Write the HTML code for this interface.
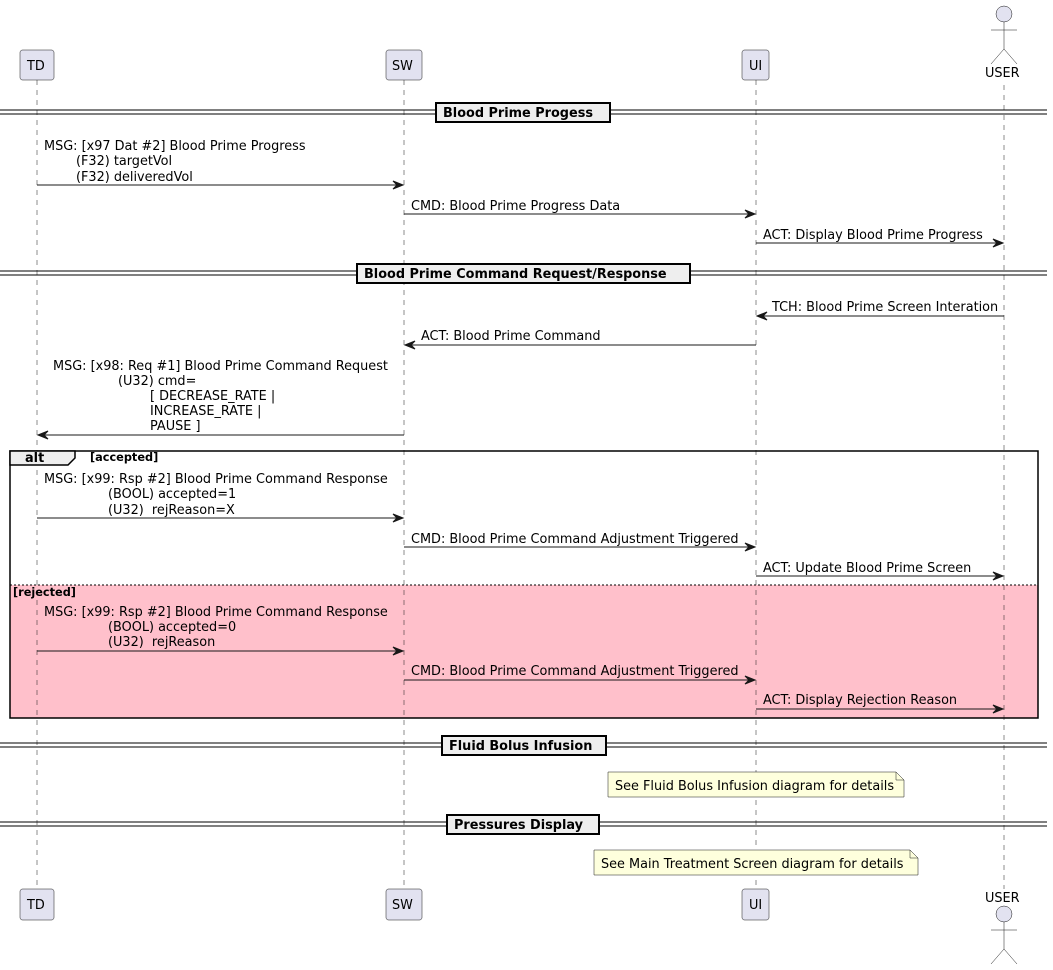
<!DOCTYPE html>
<html><head><meta charset="utf-8"><style>html,body{margin:0;padding:0;background:#fff}svg{display:block}text{font-family:"DejaVu Sans","Liberation Sans",sans-serif;font-size:12.85px;fill:#000}</style></head><body>
<svg width="1053" height="970" viewBox="0 0 1053 970" xmlns="http://www.w3.org/2000/svg">
<defs>
<g id="ar"><polygon points="0,0 -10,-4 -6,0 -10,4" fill="#181818" stroke="#181818"/></g>
</defs>
<rect x="10" y="585" width="1028" height="133" fill="#FFC0CB"/>
<g stroke="#181818" stroke-width="0.5" stroke-dasharray="5,5">
<line x1="37" y1="80" x2="37" y2="889"/>
<line x1="404" y1="80" x2="404" y2="889"/>
<line x1="756" y1="80" x2="756" y2="889"/>
<line x1="1004" y1="85" x2="1004" y2="889"/>
</g>
<g fill="#E2E2F0" stroke="#181818" stroke-width="0.5">
<rect x="20" y="50" width="34" height="30" rx="2.5"/>
<rect x="386" y="50" width="36" height="30" rx="2.5"/>
<rect x="742" y="50" width="27" height="30" rx="2.5"/>
<rect x="20" y="889" width="34" height="31" rx="2.5"/>
<rect x="386" y="889" width="36" height="31" rx="2.5"/>
<rect x="742" y="889" width="27" height="31" rx="2.5"/>
<circle cx="1004" cy="14" r="8"/>
<circle cx="1004" cy="914" r="8"/>
</g>
<g stroke="#181818" stroke-width="0.5" fill="none">
<path d="M1004,22 V49 M991,30 H1017 M1004,49 L991,64 M1004,49 L1017,64"/>
<path d="M1004,922 V949 M991,930 H1017 M1004,949 L991,964 M1004,949 L1017,964"/>
</g>
<text x="27" y="70">TD</text><text x="392" y="70">SW</text><text x="749" y="70">UI</text><text x="985" y="77">USER</text>
<text x="27" y="909">TD</text><text x="392" y="909">SW</text><text x="749" y="909">UI</text><text x="985" y="902">USER</text>
<g stroke="#000" stroke-width="1">
<line x1="0" y1="110" x2="1047" y2="110"/><line x1="0" y1="114" x2="1047" y2="114"/>
<line x1="0" y1="271" x2="1047" y2="271"/><line x1="0" y1="275" x2="1047" y2="275"/>
<line x1="0" y1="743" x2="1047" y2="743"/><line x1="0" y1="747" x2="1047" y2="747"/>
<line x1="0" y1="822" x2="1047" y2="822"/><line x1="0" y1="826" x2="1047" y2="826"/>
</g>
<g fill="#EEEEEE" stroke="#000" stroke-width="2">
<rect x="436" y="103" width="174" height="19"/>
<rect x="357" y="264" width="333" height="19"/>
<rect x="442" y="736" width="164" height="19"/>
<rect x="447" y="815" width="152" height="19"/>
</g>
<text x="443" y="117" style="font-weight:bold">Blood Prime Progess</text>
<text x="364" y="278" style="font-weight:bold">Blood Prime Command Request/Response</text>
<text x="449" y="750" style="font-weight:bold">Fluid Bolus Infusion</text>
<text x="454" y="829" style="font-weight:bold">Pressures Display</text>
<rect x="10" y="451" width="1028" height="267" fill="none" stroke="#000" stroke-width="1.5"/>
<path d="M10,451 H75 V458 L68,465 H10 Z" fill="#EEEEEE" stroke="#000" stroke-width="1.5"/>
<text x="25" y="462" style="font-weight:bold">alt</text>
<text x="90" y="461" style="font-weight:bold;font-size:11.3px">[accepted]</text>
<line x1="10" y1="585" x2="1038" y2="585" stroke="#000" stroke-width="1" stroke-dasharray="2,2"/>
<text x="13" y="596" style="font-weight:bold;font-size:11.3px">[rejected]</text>
<g stroke="#181818" stroke-width="1">
<line x1="37" y1="185" x2="402" y2="185"/>
<line x1="404" y1="214" x2="754" y2="214"/>
<line x1="756" y1="243" x2="1002" y2="243"/>
<line x1="1004" y1="316" x2="758" y2="316"/>
<line x1="756" y1="345" x2="406" y2="345"/>
<line x1="404" y1="435" x2="39" y2="435"/>
<line x1="37" y1="518" x2="402" y2="518"/>
<line x1="404" y1="547" x2="754" y2="547"/>
<line x1="756" y1="576" x2="1002" y2="576"/>
<line x1="37" y1="651" x2="402" y2="651"/>
<line x1="404" y1="680" x2="754" y2="680"/>
<line x1="756" y1="709" x2="1002" y2="709"/>
</g>
<use href="#ar" x="403" y="185"/><use href="#ar" x="755" y="214"/><use href="#ar" x="1003" y="243"/>
<use href="#ar" transform="translate(757,316) scale(-1,1)"/>
<use href="#ar" transform="translate(405,345) scale(-1,1)"/>
<use href="#ar" transform="translate(38,435) scale(-1,1)"/>
<use href="#ar" x="403" y="518"/><use href="#ar" x="755" y="547"/><use href="#ar" x="1003" y="576"/>
<use href="#ar" x="403" y="651"/><use href="#ar" x="755" y="680"/><use href="#ar" x="1003" y="709"/>
<text x="44" y="150">MSG: [x97 Dat #2] Blood Prime Progress</text>
<text x="76" y="165">(F32) targetVol</text>
<text x="76" y="181">(F32) deliveredVol</text>
<text x="411" y="210">CMD: Blood Prime Progress Data</text>
<text x="763" y="239">ACT: Display Blood Prime Progress</text>
<text x="772" y="311">TCH: Blood Prime Screen Interation</text>
<text x="421" y="340">ACT: Blood Prime Command</text>
<text x="53" y="370">MSG: [x98: Req #1] Blood Prime Command Request</text>
<text x="118" y="385">(U32) cmd=</text>
<text x="150" y="400">[ DECREASE_RATE |</text>
<text x="150" y="415">INCREASE_RATE |</text>
<text x="150" y="430">PAUSE ]</text>
<text x="44" y="483">MSG: [x99: Rsp #2] Blood Prime Command Response</text>
<text x="108" y="498">(BOOL) accepted=1</text>
<text x="108" y="514" xml:space="preserve">(U32)  rejReason=X</text>
<text x="411" y="543">CMD: Blood Prime Command Adjustment Triggered</text>
<text x="763" y="572">ACT: Update Blood Prime Screen</text>
<text x="44" y="616">MSG: [x99: Rsp #2] Blood Prime Command Response</text>
<text x="108" y="631">(BOOL) accepted=0</text>
<text x="108" y="646" xml:space="preserve">(U32)  rejReason</text>
<text x="411" y="675">CMD: Blood Prime Command Adjustment Triggered</text>
<text x="763" y="704">ACT: Display Rejection Reason</text>
<g fill="#FEFFDD" stroke="#181818" stroke-width="0.5">
<path d="M608,772 H896 L904,780 V797 H608 Z"/>
<path d="M896,772 V780 H904" fill="none"/>
<path d="M594,850 H910 L918,858 V875 H594 Z"/>
<path d="M910,850 V858 H918" fill="none"/>
</g>
<text x="615" y="790">See Fluid Bolus Infusion diagram for details</text>
<text x="601" y="868">See Main Treatment Screen diagram for details</text>
</svg>
</body></html>
